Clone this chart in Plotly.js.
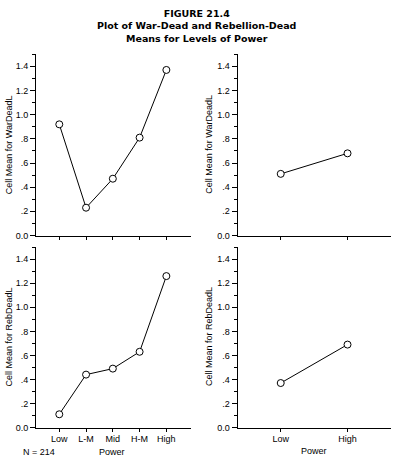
<!DOCTYPE html>
<html><head><meta charset="utf-8">
<script src="https://cdn.plot.ly/plotly-3.0.1.min.js"></script>
<style>html,body{margin:0;padding:0;background:#fff}#chart{width:395px;height:463px}</style>
</head><body><div id="chart"></div>
<script>
const titleLines = ["FIGURE 21.4", "Plot of War-Dead and Rebellion-Dead", "Means for Levels of Power"];
const powerFive = ["Low", "L-M", "Mid", "H-M", "High"];
const powerTwo = ["Low", "High"];
const warDeadFive = [0.92, 0.23, 0.47, 0.81, 1.37];
const warDeadTwo = [0.51, 0.68];
const rebDeadFive = [0.11, 0.44, 0.49, 0.63, 1.26];
const rebDeadTwo = [0.37, 0.69];
const yTickVals = [0, 0.2, 0.4, 0.6, 0.8, 1.0, 1.2, 1.4];
const yTickText = ["0.0", ".2", ".4", ".6", ".8", "1.0", "1.2", "1.4"];
const yMinorVals = [0.1, 0.3, 0.5, 0.7, 0.9, 1.1, 1.3, 1.5];
const yTitleWar = "Cell Mean for WarDeadL";
const yTitleReb = "Cell Mean for RebDeadL";
const xTitle = "Power";
const nNote = "N = 214";

const W = 395, H = 463;
const px = v => v / W;
const py = v => (H - v) / H;
const font = {family: "Liberation Sans, Arial, sans-serif", size: 9, color: "#000"};

function trace(x, y, xa, ya) {
  return {x: x, y: y, xaxis: xa, yaxis: ya, type: "scatter", mode: "lines+markers",
    line: {color: "#000", width: 1},
    marker: {symbol: "circle", size: 7, color: "#fff", line: {color: "#000", width: 1}},
    cliponaxis: false, hoverinfo: "skip"};
}
function yax(dom, anchor) {
  return {domain: dom, anchor: anchor, range: [0, 1.502], showline: true, linecolor: "#000", linewidth: 1,
    showgrid: false, zeroline: false, ticks: "outside", ticklen: 5, tickcolor: "#000",
    tickmode: "array", tickvals: yTickVals, ticktext: yTickText, tickfont: font,
    minor: {tickmode: "array", tickvals: yMinorVals, ticks: "outside", ticklen: 3, tickcolor: "#000", showgrid: false},
    fixedrange: true};
}
function xax(dom, anchor, range, showLabels) {
  return {domain: dom, anchor: anchor, type: "category", range: range, showline: true, linecolor: "#000", linewidth: 1,
    showgrid: false, zeroline: false, ticks: "outside", ticklen: 3, tickcolor: "#000",
    showticklabels: showLabels, tickfont: font, fixedrange: true};
}
const leftX = [px(36), px(191)];
const rightX = [px(237.5), px(391)];
const topY = [py(235.5), py(54)];
const botY = [py(427.5), py(247)];

const data = [
  trace(powerFive, warDeadFive, "x", "y"),
  trace(powerTwo, warDeadTwo, "x2", "y2"),
  trace(powerFive, rebDeadFive, "x3", "y3"),
  trace(powerTwo, rebDeadTwo, "x4", "y4")
];
const ann = [];
ann.push({text: titleLines.map(t => "<b>" + t + "</b>").join("<br>"), xref: "paper", yref: "paper", x: px(196), y: py(26.5),
  xanchor: "center", yanchor: "middle", align: "center", showarrow: false,
  font: {family: "DejaVu Sans, sans-serif", size: 9.5, color: "#000"}});
function yt(text, x, ymid) { ann.push({text: text, textangle: -90, xref: "paper", yref: "paper", x: px(x), y: py(ymid), xanchor: "center", yanchor: "middle", showarrow: false, font: font}); }
yt(yTitleWar, 8.5, 144.7); yt(yTitleWar, 209, 144.7); yt(yTitleReb, 8.5, 337); yt(yTitleReb, 209, 337);
ann.push({text: xTitle, xref: "paper", yref: "paper", x: px(112), y: py(452), xanchor: "center", yanchor: "middle", showarrow: false, font: font});
ann.push({text: xTitle, xref: "paper", yref: "paper", x: px(314), y: py(451), xanchor: "center", yanchor: "middle", showarrow: false, font: font});
ann.push({text: nNote, xref: "paper", yref: "paper", x: px(21), y: py(451.5), xanchor: "left", yanchor: "middle", showarrow: false, font: font});

const layout = {
  width: W, height: H, margin: {l: 0, r: 0, t: 0, b: 0}, paper_bgcolor: "#fff", plot_bgcolor: "#fff",
  showlegend: false, font: font,
  xaxis: xax(leftX, "y", [-0.87, 4.92], false), yaxis: yax(topY, "x"),
  xaxis2: xax(rightX, "y2", [-0.647, 1.651], false), yaxis2: yax(topY, "x2"),
  xaxis3: xax(leftX, "y3", [-0.87, 4.92], true), yaxis3: yax(botY, "x3"),
  xaxis4: xax(rightX, "y4", [-0.647, 1.651], true), yaxis4: yax(botY, "x4"),
  annotations: ann
};
Plotly.newPlot("chart", data, layout, {staticPlot: true, displayModeBar: false});
</script></body></html>
